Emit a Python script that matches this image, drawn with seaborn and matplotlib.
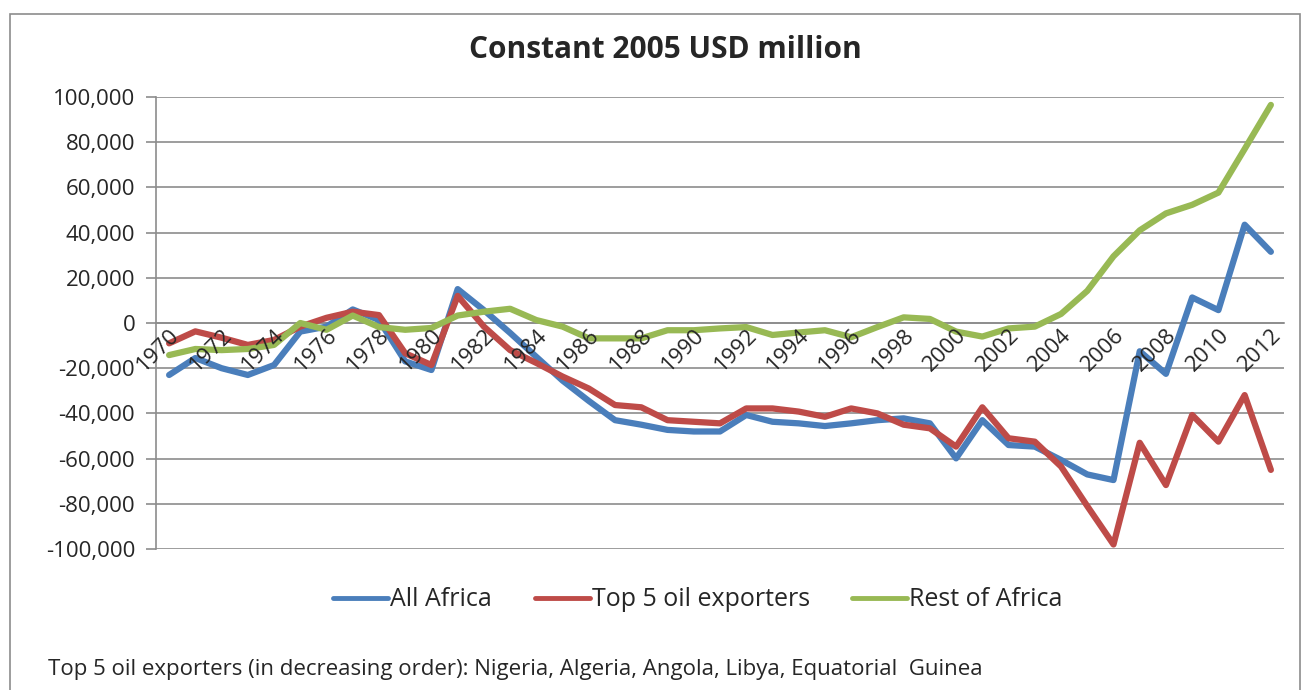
import pandas as pd
import matplotlib.pyplot as plt
import matplotlib.patches as mpatches
import seaborn as sns

# Datos (millones USD constantes de 2005)
years = list(range(1970, 2013))

all_africa = [-23000, -15500, -20000, -23000, -18600, -3800, -1600, 6000, 1300, -17000,
              -20800, 15000, 5700, -4400, -15000, -25500, -34500, -43000, -45000, -47300,
              -48000, -48000, -40700, -43700, -44400, -45600, -44400, -43000, -42200, -44400,
              -59900, -43000, -54000, -54700, -60600, -67000, -69500, -12500, -22500, 11300,
              5700, 43500, 31500]

top5_oil = [-9000, -3700, -6500, -9700, -7500, -1600, 2300, 5000, 3500, -13400,
            -18600, 12000, -1600, -12000, -17700, -23700, -29000, -36300, -37300, -43000,
            -43700, -44400, -37800, -37800, -39200, -41500, -37800, -40000, -45000, -46600,
            -54700, -37300, -51000, -52500, -63500, -81000, -98000, -53000, -71700, -40700,
            -52500, -31900, -65000]

rest_africa = [-14200, -11500, -12000, -11500, -9700, 0, -3000, 3300, -1800, -3000,
               -2200, 3300, 5000, 6300, 1300, -1600, -6800, -6800, -6800, -3200,
               -3200, -2400, -1800, -5300, -4200, -3200, -6300, -1800, 2500, 1800,
               -3800, -6000, -2400, -1600, 4000, 14200, 29500, 41000, 48500, 52300,
               57700, 77000, 96500]

series_names = ["All Africa", "Top 5 oil exporters", "Rest of Africa"]
colores = {"All Africa": "#4A7EBB", "Top 5 oil exporters": "#BE4B48", "Rest of Africa": "#98B954"}

df = pd.DataFrame({"year": years * 3,
                   "value": all_africa + top5_oil + rest_africa,
                   "serie": [s for s in series_names for _ in years]})

# Estilo
sns.set_style("white")
plt.rcParams["font.family"] = ["Open Sans", "DejaVu Sans"]
fs = 16

fig = plt.figure(figsize=(13.09, 6.90), dpi=100)
ax = fig.add_axes([156 / 1309, 1 - 549 / 690, (1284 - 156) / 1309, (549 - 97) / 690])

sns.lineplot(data=df, x="year", y="value", hue="serie", palette=colores, ax=ax,
             linewidth=4.5, legend=False, solid_joinstyle="round")

ax.set_xlim(1969.5, 2012.5)
ax.set_ylim(-100000, 100000)
ax.set_yticks(range(-100000, 100001, 20000))
ax.set_yticklabels([f"{v:,}" for v in range(-100000, 100001, 20000)], fontsize=fs)
ax.yaxis.grid(True, color="#8c8c8c", linewidth=1.2)
ax.set_xlabel("")
ax.set_ylabel("")

# Eje X cruzando en 0, ticks entre categorias
for s in ["top", "right"]:
    ax.spines[s].set_visible(False)
ax.spines["bottom"].set_position(("data", 0))
ax.spines["bottom"].set_color("#8c8c8c")
ax.spines["bottom"].set_linewidth(1.2)
ax.spines["bottom"].set_zorder(1)
ax.spines["left"].set_color("#8c8c8c")
ax.spines["left"].set_linewidth(1.2)
ax.set_xticks([1969.5 + k for k in range(44)])
ax.set_xticklabels([])
ax.tick_params(axis="x", which="major", direction="out", length=7, color="#8c8c8c", width=1.2)
ax.set_xticks(list(range(1970, 2013, 2)), minor=True)
ax.set_xticklabels([str(y) for y in range(1970, 2013, 2)], minor=True, rotation=45,
                   ha="right", rotation_mode="anchor", fontsize=fs)
ax.tick_params(axis="x", which="minor", length=0, pad=1)
ax.tick_params(axis="y", direction="out", length=7, color="#8c8c8c", width=1.2, left=True, pad=8)
ax.set_axisbelow(True)
# etiquetas del eje X por encima de las lineas
ax.xaxis.set_zorder(3)

fig.text(665 / 1309, 1 - 50 / 690, "Constant 2005 USD million", ha="center", va="center",
         fontsize=21.5, fontweight="bold")

handles = [plt.Line2D([], [], color=colores[s], linewidth=3.5) for s in series_names]
fig.legend(handles, series_names, loc="center", bbox_to_anchor=(698 / 1309, 1 - 600 / 690),
           ncol=3, frameon=False, fontsize=18, handlelength=2.2, columnspacing=1.7,
           handletextpad=0.08)

fig.text(48 / 1309, 1 - 670 / 690,
         "Top 5 oil exporters (in decreasing order): Nigeria, Algeria, Angola, Libya, Equatorial  Guinea",
         ha="left", va="center", fontsize=16)

# Borde del area del grafico
fig.patches.append(mpatches.Rectangle((10 / 1309, -0.01), 1290 / 1309, 1 - 14 / 690 + 0.01,
                                      transform=fig.transFigure, fill=False,
                                      edgecolor="#8c8c8c", linewidth=1.2))

fig.savefig("out.png", dpi=100)
